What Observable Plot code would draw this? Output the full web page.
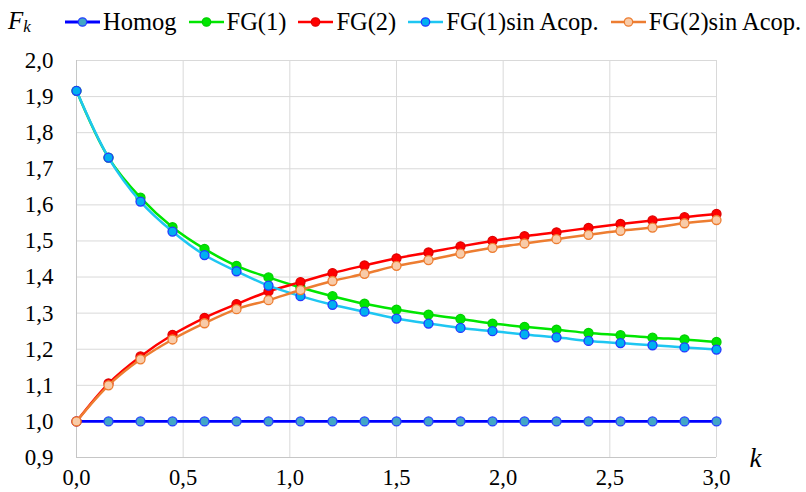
<!DOCTYPE html>
<html>
<head>
<meta charset="utf-8">
<script src="https://cdn.jsdelivr.net/npm/d3@7"></script>
<script src="https://cdn.jsdelivr.net/npm/@observablehq/plot@0.6"></script>
<style>
  html, body { margin: 0; padding: 0; background: #fff; }
  body { width: 806px; height: 492px; overflow: hidden; font-family: 'Liberation Serif', 'DejaVu Serif', serif; }
  #legend { position: relative; height: 45px; }
  #legend .fk { position: absolute; left: 8px; top: 7px; font-size: 25px; font-style: italic; color: #000; }
  #legend .fk sub { font-size: 17px; font-style: italic; position: relative; top: 3px; vertical-align: baseline; margin-left: 0px; }
  #legend .items { position: absolute; left: 65px; top: 8px; display: flex; align-items: center; gap: 12px; }
  #legend .item { display: flex; align-items: center; font-size: 24.5px; color: #000; white-space: nowrap; }
  #legend .item svg { margin-right: 3px; }
  #chart svg text { font-family: 'Liberation Serif', 'DejaVu Serif', serif; }
</style>
</head>
<body>
<div id="legend"><div class="fk">F<sub>k</sub></div><div class="items"></div></div>
<div id="chart"></div>
<script>
const k      = [0, 0.15, 0.3, 0.45, 0.6, 0.75, 0.9, 1.05, 1.2, 1.35, 1.5, 1.65, 1.8, 1.95, 2.1, 2.25, 2.4, 2.55, 2.7, 2.85, 3.0];
const homog  = [1, 1, 1, 1, 1, 1, 1, 1, 1, 1, 1, 1, 1, 1, 1, 1, 1, 1, 1, 1, 1];
const fg1    = [1.916, 1.731, 1.620, 1.538, 1.478, 1.431, 1.399, 1.371, 1.347, 1.326, 1.310, 1.296, 1.284, 1.271, 1.262, 1.254, 1.245, 1.239, 1.232, 1.227, 1.220];
const fg2    = [1.000, 1.105, 1.180, 1.240, 1.287, 1.325, 1.360, 1.386, 1.411, 1.432, 1.452, 1.468, 1.485, 1.500, 1.513, 1.524, 1.536, 1.547, 1.557, 1.566, 1.575];
const fg1sin = [1.916, 1.731, 1.609, 1.526, 1.461, 1.416, 1.376, 1.347, 1.323, 1.304, 1.285, 1.271, 1.259, 1.250, 1.241, 1.233, 1.223, 1.217, 1.211, 1.205, 1.199];
const fg2sin = [1.000, 1.100, 1.172, 1.227, 1.272, 1.311, 1.336, 1.364, 1.389, 1.409, 1.431, 1.447, 1.465, 1.481, 1.493, 1.505, 1.517, 1.528, 1.537, 1.549, 1.558];

const seriesNames = ["Homog", "FG(1)", "FG(2)", "FG(1)sin Acop.", "FG(2)sin Acop."];
const seriesValues = [homog, fg1, fg2, fg1sin, fg2sin];
const xTicks = [0, 0.5, 1.0, 1.5, 2.0, 2.5, 3.0];
const yTicks = [0.9, 1.0, 1.1, 1.2, 1.3, 1.4, 1.5, 1.6, 1.7, 1.8, 1.9, 2.0];

const styles = [
  {line: "#0000ff", fill: "#43a6c6", stroke: "#2440ff", lw: 2.8},
  {line: "#00e600", fill: "#00e600", stroke: "#00d000", lw: 2.5},
  {line: "#ff0000", fill: "#ff0000", stroke: "#e00000", lw: 2.5},
  {line: "#1ec6f2", fill: "#00b0f0", stroke: "#2438ff", lw: 2.5},
  {line: "#ed7d31", fill: "#f8cba8", stroke: "#ed7d31", lw: 2.5}
];

const comma = v => d3.format(".1f")(v).replace(".", ",");
const serif = "'Liberation Serif', 'DejaVu Serif', serif";

const marks = [
  Plot.gridY(yTicks, {stroke: "#d9d9d9", strokeOpacity: 1, strokeWidth: 1}),
  Plot.gridX(xTicks, {stroke: "#d9d9d9", strokeOpacity: 1, strokeWidth: 1}),
  Plot.ruleX([0], {stroke: "#c6c6c6", strokeWidth: 1}),
  Plot.ruleY([0.9], {stroke: "#c6c6c6", strokeWidth: 1}),
  Plot.axisY(yTicks, {tickSize: 0, tickPadding: 23, tickFormat: comma, fontSize: 23, fill: "#000", label: null}),
  Plot.axisX(xTicks, {tickSize: 0, tickPadding: 12, tickFormat: comma, fontSize: 22.5, fill: "#000", label: null})
];

seriesNames.forEach((name, i) => {
  const data = k.map((kv, j) => ({k: kv, v: seriesValues[i][j]}));
  const s = styles[i];
  marks.push(Plot.line(data, {x: "k", y: "v", stroke: s.line, strokeWidth: s.lw, curve: "catmull-rom"}));
  marks.push(Plot.dot(data, {x: "k", y: "v", r: 4.5, fill: s.fill, stroke: s.stroke, strokeWidth: 1.3}));
});

marks.push(Plot.text(["k"], {frameAnchor: "bottom-right", dx: 39, dy: 1, fontSize: 27, fontStyle: "italic", fill: "#000", textAnchor: "middle", lineAnchor: "middle"}));

const chart = Plot.plot({
  width: 806,
  height: 447,
  marginTop: 15,
  marginBottom: 35,
  marginLeft: 76,
  marginRight: 90,
  x: {domain: [0, 3]},
  y: {domain: [0.9, 2.0]},
  style: {fontFamily: serif, background: "#fff", overflow: "visible"},
  marks
});
document.getElementById("chart").appendChild(chart);

// legend
const items = document.querySelector("#legend .items");
seriesNames.forEach((name, i) => {
  const s = styles[i];
  const div = document.createElement("div");
  div.className = "item";
  div.innerHTML = `<svg width="35" height="14" viewBox="0 0 35 14"><line x1="0" y1="7" x2="35" y2="7" stroke="${s.line}" stroke-width="${s.lw}"/><circle cx="17.5" cy="7" r="4.2" fill="${s.fill}" stroke="${s.stroke}" stroke-width="1.3"/></svg><span>${name}</span>`;
  items.appendChild(div);
});
</script>
</body>
</html>
